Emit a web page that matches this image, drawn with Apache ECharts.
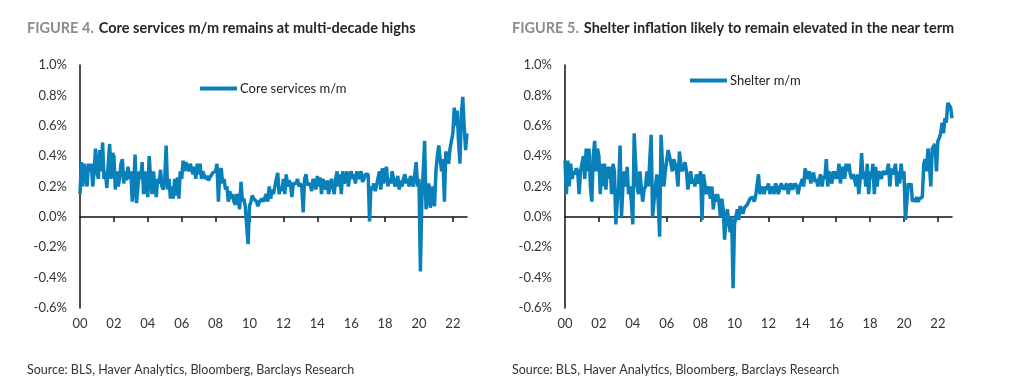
<!DOCTYPE html>
<html>
<head>
<meta charset="utf-8">
<script src="https://cdn.jsdelivr.net/npm/echarts@6/dist/echarts.min.js"></script>
<style>
html,body{margin:0;padding:0;background:#fff;}
#c{width:1024px;height:384px;}
</style>
</head>
<body>
<div id="c"></div>
<script>
// Monthly, Jan 2000 .. Nov 2022
var startYear = 2000;
var coreServices = [
  0.15,0.36,0.2,0.35,0.3,0.2,0.35,0.3,0.35,0.2,0.3,0.45,
  0.3,0.25,0.44,0.3,0.49,0.25,0.3,0.19,0.35,0.48,0.25,0.42,
  0.4,0.18,0.3,0.2,0.25,0.35,0.38,0.22,0.3,0.24,0.33,0.25,
  0.3,0.1,0.2,0.41,0.09,0.1,0.3,0.25,0.36,0.15,0.3,0.2,
  0.13,0.4,0.25,0.15,0.3,0.2,0.13,0.25,0.22,0.31,0.2,0.18,
  0.25,0.47,0.18,0.25,0.12,0.2,0.12,0.25,0.14,0.26,0.12,0.3,
  0.25,0.37,0.3,0.36,0.37,0.3,0.35,0.32,0.28,0.33,0.25,0.35,
  0.28,0.35,0.25,0.3,0.27,0.25,0.27,0.24,0.26,0.27,0.29,0.3,
  0.3,0.35,0.1,0.3,0.32,0.22,0.25,0.18,0.2,0.1,0.17,0.12,
  0.15,0.1,0.08,0.15,0.12,0.05,0.23,0.1,0.12,0.07,0.08,-0.18,
  0.07,0.1,0.14,0.12,0.13,0.1,0.07,0.1,0.09,0.12,0.1,0.13,
  0.15,0.1,0.2,0.12,0.18,0.15,0.2,0.25,0.29,0.15,0.2,0.17,
  0.25,0.15,0.28,0.2,0.24,0.22,0.13,0.22,0.23,0.22,0.25,0.2,
  0.22,0.2,0.03,0.25,0.28,0.21,0.2,0.22,0.17,0.25,0.23,0.18,
  0.27,0.2,0.26,0.15,0.25,0.22,0.18,0.24,0.15,0.2,0.25,0.2,
  0.15,0.25,0.3,0.2,0.28,0.15,0.3,0.22,0.25,0.3,0.2,0.27,
  0.3,0.25,0.28,0.22,0.3,0.25,0.27,0.3,0.23,0.25,0.28,0.27,
  0.28,-0.03,0.2,0.18,0.22,0.17,0.21,0.2,0.3,0.18,0.32,0.22,
  0.3,0.33,0.2,0.25,0.22,0.3,0.25,0.2,0.22,0.27,0.18,0.24,
  0.2,0.25,0.28,0.22,0.25,0.2,0.27,0.26,0.2,0.28,0.36,0.2,
  0.25,-0.36,0.1,0.3,0.5,0.05,0.15,0.22,0.06,0.2,0.1,0.07,
  0.3,0.4,0.47,0.38,0.3,0.38,0.1,0.43,0.4,0.35,0.45,0.5,
  0.55,0.72,0.6,0.7,0.5,0.35,0.68,0.79,0.6,0.44,0.55
];
var shelter = [
  0.37,0.15,0.37,0.2,0.35,0.25,0.3,0.28,0.32,0.3,0.15,0.3,
  0.35,0.4,0.25,0.45,0.3,0.45,0.2,0.1,0.4,0.5,0.3,0.45,
  0.4,0.15,0.35,0.2,0.35,0.18,0.33,0.25,0.33,0.15,0.35,0.3,
  -0.05,0.1,0.2,0.47,0.0,0.2,0.3,0.2,0.33,0.15,0.2,0.1,
  -0.05,0.55,0.35,0.2,0.15,0.3,0.2,0.1,0.18,0.2,0.3,0.2,
  0.2,0.54,0.0,0.1,0.2,0.28,0.1,-0.13,0.54,0.35,0.2,0.3,
  0.3,0.44,0.4,0.35,0.3,0.38,0.35,0.3,0.2,0.43,0.35,0.3,
  0.3,0.36,0.3,0.18,0.25,0.3,0.22,0.25,0.2,0.28,0.22,0.25,
  0.3,-0.02,0.28,0.22,0.15,0.2,0.18,0.12,0.2,0.05,0.15,0.1,
  0.15,0.1,0.0,0.12,0.05,-0.15,0.0,0.05,-0.05,-0.1,0.0,-0.47,
  -0.05,0.0,0.05,-0.02,0.07,0.05,0.02,0.06,0.05,0.08,0.1,0.12,
  0.12,0.13,0.1,0.14,0.13,0.28,0.15,0.2,0.18,0.15,0.2,0.18,
  0.22,0.15,0.2,0.18,0.15,0.22,0.2,0.15,0.18,0.22,0.2,0.18,
  0.2,0.22,0.15,0.2,0.22,0.18,0.2,0.22,0.2,0.15,0.2,0.22,
  0.25,0.2,0.32,0.28,0.25,0.3,0.22,0.27,0.29,0.23,0.25,0.2,
  0.25,0.28,0.2,0.27,0.25,0.38,0.2,0.3,0.25,0.22,0.3,0.25,
  0.3,0.25,0.35,0.22,0.3,0.33,0.25,0.35,0.3,0.35,0.28,0.25,
  0.28,0.25,0.2,0.28,0.15,0.25,0.42,0.25,0.3,0.2,0.35,0.15,
  0.3,0.25,0.35,0.15,0.33,0.2,0.3,0.28,0.25,0.3,0.3,0.28,
  0.3,0.35,0.2,0.32,0.28,0.3,0.35,0.2,0.3,0.22,0.35,0.25,
  0.3,-0.02,0.1,0.22,0.2,0.22,0.1,0.12,0.1,0.13,0.1,0.12,
  0.12,0.13,0.35,0.38,0.3,0.45,0.35,0.2,0.45,0.45,0.48,0.3,
  0.5,0.52,0.55,0.62,0.55,0.65,0.62,0.75,0.76,0.72,0.65
];
var months = [];
for (var i = 0; i < coreServices.length; i++) {
  var y = startYear + Math.floor(i / 12), m = (i % 12) + 1;
  months.push(y + '-' + (m < 10 ? '0' + m : m));
}
var titles = [
  {fig: 'FIGURE 4.', text: 'Core services m/m remains at multi-decade highs'},
  {fig: 'FIGURE 5.', text: 'Shelter inflation likely to remain elevated in the near term'}
];
var sourceText = 'Source: BLS, Haver Analytics, Bloomberg, Barclays Research';
var seriesNames = ['Core services m/m', 'Shelter m/m'];

var FONT = 'Lato';
var LINE = '#0a80ba';
var grids = [
  {left: 80, top: 65, width: 387, height: 243},
  {left: 565, top: 65, width: 387, height: 243}
];
var tickEvery = function (idx) { return idx % 24 === 0; };
var tickNoFirst = function (idx) { return idx % 24 === 0 && idx > 0; };

var xAxes = [], yAxes = [];
[0, 1].forEach(function (g) {
  xAxes.push({
    type: 'category', gridIndex: g, data: months, boundaryGap: false,
    axisLine: {onZero: true, lineStyle: {color: '#111', width: 1.5}},
    axisTick: {show: true, interval: tickNoFirst, length: 5, lineStyle: {color: '#111', width: 1.5}},
    axisLabel: {show: false}, splitLine: {show: false}
  });
  xAxes.push({
    type: 'category', gridIndex: g, data: months, boundaryGap: false, position: 'bottom',
    axisLine: {show: false, onZero: false}, axisTick: {show: false}, splitLine: {show: false},
    axisLabel: {
      interval: tickEvery, margin: 9, color: '#333', fontFamily: FONT, fontSize: 13,
      formatter: function (v) { return v.substr(2, 2); }
    }
  });
  yAxes.push({
    type: 'value', gridIndex: g, min: -0.6, max: 1.0, interval: 0.2,
    axisLine: {show: true, lineStyle: {color: '#111', width: 1.5}},
    axisTick: {show: false}, splitLine: {show: false},
    axisLabel: {
      color: '#333', fontFamily: FONT, fontSize: 13, margin: 13,
      formatter: function (v) { return v.toFixed(1) + '%'; }
    }
  });
});

function titleStyle() {
  return {rich: {
    a: {color: '#8c8c8c', fontWeight: 'bold', fontSize: 14.5, fontFamily: FONT},
    b: {color: '#262626', fontWeight: 'bold', fontSize: 14.5, fontFamily: FONT}
  }};
}

var option = {
  animation: false,
  backgroundColor: '#fff',
  title: [
    {left: 22, top: 14, text: '{a|' + titles[0].fig + '} {b|' + titles[0].text + '}', textStyle: titleStyle()},
    {left: 507, top: 14, text: '{a|' + titles[1].fig + '} {b|' + titles[1].text + '}', textStyle: titleStyle()},
    {left: 22, top: 358, text: sourceText,
     textStyle: {color: '#333', fontWeight: 'normal', fontSize: 12.5, fontFamily: FONT}},
    {left: 507, top: 358, text: sourceText,
     textStyle: {color: '#333', fontWeight: 'normal', fontSize: 12.5, fontFamily: FONT}}
  ],
  legend: [
    {data: [seriesNames[0]], icon: 'rect', left: 195, top: 77, itemWidth: 37, itemHeight: 4, itemGap: 0,
     textStyle: {color: '#222', fontSize: 13, fontFamily: FONT, padding: [0, 0, 0, -2]}},
    {data: [seriesNames[1]], icon: 'rect', left: 685, top: 69, itemWidth: 37, itemHeight: 4, itemGap: 0,
     textStyle: {color: '#222', fontSize: 13, fontFamily: FONT, padding: [0, 0, 0, -2]}}
  ],
  grid: grids,
  xAxis: xAxes,
  yAxis: yAxes,
  series: [
    {name: seriesNames[0], type: 'line', xAxisIndex: 0, yAxisIndex: 0, data: coreServices,
     symbol: 'none', lineStyle: {color: LINE, width: 3.5}, itemStyle: {color: LINE}},
    {name: seriesNames[1], type: 'line', xAxisIndex: 2, yAxisIndex: 1, data: shelter,
     symbol: 'none', lineStyle: {color: LINE, width: 3.5}, itemStyle: {color: LINE}}
  ]
};
var chart = echarts.init(document.getElementById('c'), null, {renderer: 'canvas'});
chart.setOption(option);
</script>
</body>
</html>
